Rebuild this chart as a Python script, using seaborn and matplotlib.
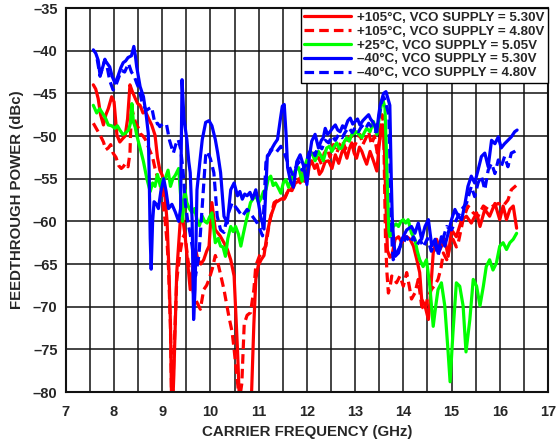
import matplotlib
matplotlib.use("Agg")
import matplotlib.pyplot as plt
import seaborn as sns
import pandas as pd

# (GHz, dBc) 곡선 데이터 - 그림에서 읽은 값
red_530 = [
    (7.57, -44.0), (7.62, -44.5), (7.67, -45.6), (7.72, -47.5), (7.78, -48.7), (7.83, -47.5), (7.88, -46.8),
    (7.95, -45.4), (8.0, -46.0), (8.06, -49.9), (8.12, -50.7), (8.18, -50.3), (8.23, -50.0), (8.28, -48.0),
    (8.33, -44.0), (8.38, -44.8), (8.44, -45.6), (8.49, -46.2), (8.54, -46.4), (8.6, -47.3), (8.65, -47.1),
    (8.72, -48.0), (8.78, -48.7), (8.85, -49.9), (8.9, -52.5), (8.95, -54.0), (9.0, -54.6), (9.04, -56.0),
    (9.1, -60.0), (9.14, -66.0), (9.17, -72.0), (9.2, -84.0), (9.24, -78.0), (9.3, -66.0), (9.37, -60.2),
    (9.42, -59.5), (9.47, -61.5), (9.52, -64.5), (9.58, -68.0), (9.63, -65.5), (9.69, -63.3), (9.74, -64.5),
    (9.8, -65.0), (9.86, -64.5), (9.92, -63.5), (9.97, -62.9), (10.03, -57.8), (10.1, -61.0), (10.2, -61.7),
    (10.28, -62.5), (10.35, -63.3), (10.42, -64.5), (10.49, -66.4), (10.56, -75.0), (10.6, -81.0),
    (10.7, -86.0), (10.8, -86.0), (10.85, -80.5), (10.9, -72.0), (10.94, -66.8), (10.99, -65.2),
    (11.05, -64.5), (11.11, -64.0), (11.18, -61.3), (11.25, -59.4), (11.35, -57.8), (11.46, -57.4),
    (11.55, -57.2), (11.62, -56.3), (11.69, -56.4), (11.76, -55.5), (11.83, -55.3), (11.9, -54.5),
    (11.95, -55.3), (12.0, -55.3), (12.05, -53.5), (12.1, -52.9), (12.16, -53.8), (12.21, -53.3),
    (12.26, -54.5), (12.31, -54.1), (12.38, -53.0), (12.45, -52.9), (12.52, -53.8), (12.59, -52.2),
    (12.66, -53.2), (12.72, -52.0), (12.76, -51.4), (12.83, -52.6), (12.88, -51.5), (12.93, -50.8),
    (12.98, -52.0), (13.03, -52.6), (13.09, -51.3), (13.14, -51.8), (13.19, -52.6), (13.24, -53.3),
    (13.31, -51.8), (13.38, -52.9), (13.45, -54.1), (13.5, -51.0), (13.55, -49.0), (13.58, -48.7),
    (13.61, -52.0), (13.64, -58.0), (13.67, -63.4), (13.72, -64.2), (13.76, -64.1), (13.83, -62.1),
    (13.9, -61.8), (13.97, -62.5), (14.03, -61.8), (14.07, -61.8), (14.14, -62.1), (14.21, -62.9),
    (14.28, -64.5), (14.34, -66.0), (14.38, -69.1), (14.45, -69.9), (14.52, -71.5), (14.55, -69.5),
    (14.62, -63.7), (14.69, -62.1), (14.76, -63.3), (14.86, -62.1), (14.93, -64.1), (15.0, -61.0),
    (15.1, -61.8), (15.21, -59.8), (15.31, -59.4), (15.41, -60.2), (15.52, -59.0), (15.59, -60.6),
    (15.69, -58.6), (15.79, -59.4), (15.9, -57.9), (16.0, -59.8), (16.07, -58.2), (16.14, -59.8),
    (16.21, -58.6), (16.28, -58.2), (16.35, -60.8),
]

red_480 = [
    (7.57, -48.5), (7.62, -49.0), (7.67, -49.5), (7.72, -50.0), (7.78, -50.7), (7.83, -51.6), (7.88, -51.4),
    (7.93, -51.0), (7.98, -52.0), (8.04, -52.5), (8.1, -53.5), (8.15, -53.8), (8.19, -53.6), (8.24, -53.2),
    (8.29, -53.6), (8.33, -52.0), (8.36, -46.6), (8.4, -47.5), (8.45, -48.5), (8.5, -49.0), (8.54, -49.7),
    (8.6, -50.0), (8.65, -50.4), (8.72, -51.4), (8.8, -52.5), (8.85, -53.8), (8.9, -54.8), (8.95, -55.5),
    (8.99, -56.5), (9.06, -60.0), (9.1, -62.5), (9.13, -65.5), (9.17, -72.5), (9.2, -83.0), (9.24, -76.0),
    (9.3, -66.9), (9.36, -64.0), (9.42, -62.0), (9.47, -61.4), (9.52, -64.0), (9.58, -66.4), (9.65, -68.5),
    (9.72, -69.5), (9.79, -70.3), (9.86, -68.0), (9.92, -67.5), (9.97, -66.8), (10.04, -65.5), (10.1, -64.0),
    (10.15, -64.8), (10.2, -66.0), (10.28, -68.0), (10.38, -71.1), (10.45, -73.0), (10.49, -75.0),
    (10.56, -78.9), (10.6, -81.0), (10.65, -79.0), (10.7, -72.0), (10.76, -71.0), (10.83, -70.7),
    (10.9, -68.0), (10.94, -65.2), (11.04, -63.7), (11.15, -62.9), (11.22, -60.2), (11.32, -57.8),
    (11.42, -57.4), (11.53, -57.4), (11.6, -56.5), (11.67, -56.3), (11.74, -55.5), (11.8, -54.8),
    (11.86, -55.5), (11.93, -54.0), (12.0, -54.5), (12.06, -52.5), (12.12, -52.0), (12.18, -53.0),
    (12.24, -52.5), (12.3, -53.3), (12.36, -52.0), (12.42, -51.5), (12.48, -52.5), (12.55, -51.0),
    (12.62, -52.0), (12.68, -51.0), (12.74, -50.5), (12.8, -51.5), (12.86, -50.2), (12.92, -50.0),
    (12.98, -51.3), (13.04, -50.5), (13.1, -49.8), (13.16, -51.0), (13.22, -50.3), (13.28, -49.5),
    (13.34, -51.0), (13.4, -50.0), (13.46, -52.0), (13.52, -50.0), (13.56, -47.5), (13.59, -48.5),
    (13.61, -55.0), (13.63, -62.0), (13.66, -66.0), (13.69, -68.4), (13.73, -67.5), (13.76, -66.4),
    (13.81, -66.8), (13.86, -67.2), (13.93, -66.4), (14.0, -67.6), (14.07, -66.0), (14.12, -67.5),
    (14.17, -69.1), (14.24, -68.4), (14.31, -66.8), (14.38, -69.9), (14.45, -70.5), (14.5, -69.0),
    (14.58, -68.0), (14.65, -67.5), (14.72, -66.8), (14.78, -65.5), (14.83, -63.7), (14.9, -64.5),
    (14.97, -62.9), (15.03, -62.1), (15.1, -63.0), (15.14, -62.5), (15.24, -59.8), (15.34, -58.2),
    (15.45, -59.0), (15.55, -59.4), (15.66, -58.2), (15.76, -58.6), (15.86, -58.2), (15.97, -57.9),
    (16.07, -58.2), (16.17, -57.5), (16.24, -56.3), (16.34, -55.8),
]

green_505 = [
    (7.57, -46.4), (7.64, -47.3), (7.7, -46.8), (7.78, -47.5), (7.83, -48.0), (7.88, -48.7), (7.95, -48.8),
    (8.02, -49.1), (8.07, -48.8), (8.12, -49.3), (8.18, -49.8), (8.23, -49.7), (8.3, -49.3), (8.34, -48.5),
    (8.37, -46.2), (8.4, -48.3), (8.44, -49.0), (8.47, -49.9), (8.54, -51.4), (8.61, -53.0), (8.68, -55.0),
    (8.75, -56.5), (8.8, -55.5), (8.85, -55.9), (8.9, -54.5), (8.96, -55.9), (9.01, -55.0), (9.06, -55.0),
    (9.12, -54.0), (9.17, -55.9), (9.22, -55.0), (9.27, -54.6), (9.34, -53.8), (9.38, -56.9), (9.42, -60.0),
    (9.47, -56.3), (9.51, -57.8), (9.56, -58.5), (9.62, -59.0), (9.67, -58.5), (9.72, -59.8), (9.77, -60.5),
    (9.83, -59.4), (9.88, -60.0), (9.93, -60.2), (9.98, -59.5), (10.03, -59.0), (10.07, -61.0),
    (10.1, -62.5), (10.16, -62.0), (10.21, -62.9), (10.26, -63.0), (10.31, -64.1), (10.36, -62.0),
    (10.42, -60.6), (10.47, -61.2), (10.52, -60.6), (10.58, -61.5), (10.63, -62.9), (10.68, -61.5),
    (10.73, -60.2), (10.78, -59.0), (10.83, -57.8), (10.89, -57.3), (10.94, -57.0), (11.0, -57.8),
    (11.04, -57.4), (11.1, -56.5), (11.15, -56.3), (11.2, -55.0), (11.25, -54.7), (11.3, -55.8),
    (11.35, -55.5), (11.4, -56.0), (11.46, -56.7), (11.51, -55.5), (11.56, -55.1), (11.62, -56.0),
    (11.69, -54.9), (11.76, -54.0), (11.83, -53.7), (11.9, -55.3), (11.97, -53.3), (12.02, -52.5),
    (12.07, -51.8), (12.12, -52.2), (12.17, -52.9), (12.24, -51.8), (12.29, -52.3), (12.34, -52.9),
    (12.41, -51.4), (12.47, -51.2), (12.52, -51.8), (12.57, -51.2), (12.62, -50.8), (12.67, -51.5),
    (12.72, -51.4), (12.78, -50.6), (12.83, -50.2), (12.88, -50.6), (12.93, -49.8), (12.98, -49.7),
    (13.03, -49.5), (13.08, -49.8), (13.14, -50.2), (13.19, -49.6), (13.24, -49.1), (13.31, -49.5),
    (13.38, -48.3), (13.45, -49.8), (13.52, -47.1), (13.57, -45.6), (13.62, -46.7), (13.66, -53.7),
    (13.7, -61.1), (13.72, -61.8), (13.79, -60.6), (13.85, -60.3), (13.9, -60.6), (13.95, -60.0),
    (14.0, -59.8), (14.05, -60.2), (14.1, -59.8), (14.17, -61.4), (14.24, -62.1), (14.29, -63.5),
    (14.34, -64.5), (14.41, -65.3), (14.48, -64.5), (14.55, -67.6), (14.62, -72.3), (14.67, -70.0),
    (14.72, -68.0), (14.79, -67.2), (14.86, -69.9), (14.9, -73.0), (14.93, -75.4), (14.97, -78.8),
    (15.0, -76.0), (15.03, -73.0), (15.1, -67.2), (15.17, -67.6), (15.24, -69.9), (15.3, -75.3),
    (15.38, -71.5), (15.45, -66.8), (15.52, -67.6), (15.59, -69.9), (15.66, -67.6), (15.72, -65.3),
    (15.79, -64.5), (15.86, -65.7), (15.93, -64.9), (16.0, -62.9), (16.07, -62.5), (16.14, -63.3),
    (16.21, -62.5), (16.28, -62.1), (16.35, -61.4),
]

blue_530 = [
    (7.57, -39.9), (7.62, -40.3), (7.67, -41.1), (7.71, -42.9), (7.76, -42.0), (7.81, -41.1), (7.86, -41.5),
    (7.91, -41.9), (7.96, -43.0), (8.02, -43.8), (8.08, -43.0), (8.14, -42.0), (8.19, -41.4), (8.24, -41.2),
    (8.29, -40.8), (8.36, -40.6), (8.41, -39.5), (8.44, -40.5), (8.47, -41.9), (8.54, -44.2), (8.61, -45.4),
    (8.67, -47.7), (8.71, -49.7), (8.73, -55.0), (8.75, -62.0), (8.77, -65.6), (8.8, -60.0), (8.83, -57.7),
    (8.88, -58.0), (8.92, -58.5), (8.97, -56.5), (9.03, -55.0), (9.08, -56.5), (9.13, -58.5), (9.2, -58.0),
    (9.27, -58.9), (9.34, -60.0), (9.38, -58.5), (9.41, -43.4), (9.45, -48.0), (9.51, -50.4), (9.55, -53.0),
    (9.58, -54.3), (9.62, -60.0), (9.65, -71.5), (9.68, -68.0), (9.72, -56.3), (9.78, -53.0), (9.83, -50.4),
    (9.9, -48.4), (9.97, -48.2), (10.03, -48.8), (10.1, -50.4), (10.15, -52.0), (10.21, -54.3),
    (10.28, -59.4), (10.35, -60.2), (10.42, -56.3), (10.49, -55.5), (10.56, -57.0), (10.61, -56.5),
    (10.66, -57.4), (10.71, -56.8), (10.76, -57.0), (10.82, -56.6), (10.87, -57.4), (10.94, -56.3),
    (11.0, -58.0), (11.04, -59.4), (11.11, -60.9), (11.18, -52.3), (11.23, -52.0), (11.28, -51.4),
    (11.33, -50.9), (11.39, -50.4), (11.45, -48.0), (11.49, -46.5), (11.53, -46.3), (11.57, -50.0),
    (11.6, -53.7), (11.66, -55.3), (11.72, -56.0), (11.79, -53.0), (11.86, -52.2), (11.93, -53.5),
    (12.0, -55.7), (12.05, -52.5), (12.1, -50.6), (12.17, -49.8), (12.24, -51.4), (12.3, -50.5),
    (12.34, -50.2), (12.38, -49.1), (12.43, -49.8), (12.48, -49.5), (12.54, -49.0), (12.59, -48.7),
    (12.64, -49.3), (12.69, -49.5), (12.74, -48.8), (12.79, -49.1), (12.85, -48.2), (12.9, -47.9),
    (12.95, -48.6), (13.0, -48.3), (13.05, -48.0), (13.1, -48.7), (13.16, -48.2), (13.21, -47.9),
    (13.28, -47.5), (13.32, -48.0), (13.36, -48.3), (13.41, -48.8), (13.45, -49.5), (13.49, -47.5),
    (13.52, -46.4), (13.59, -45.0), (13.64, -44.8), (13.68, -45.6), (13.72, -46.4), (13.75, -55.0),
    (13.77, -59.5), (13.79, -61.4), (13.83, -64.1), (13.9, -63.7), (13.97, -62.1), (14.07, -61.0),
    (14.17, -60.6), (14.24, -61.4), (14.31, -60.2), (14.38, -62.1), (14.45, -60.6), (14.52, -59.8),
    (14.59, -62.9), (14.66, -62.1), (14.72, -63.7), (14.79, -61.8), (14.86, -62.9), (14.93, -61.4),
    (15.0, -59.8), (15.07, -58.6), (15.14, -59.4), (15.21, -59.8), (15.28, -57.9), (15.34, -55.9),
    (15.41, -54.7), (15.48, -55.5), (15.55, -54.0), (15.62, -52.4), (15.69, -52.0), (15.76, -53.6),
    (15.83, -50.5), (15.9, -50.9), (15.97, -50.1), (16.03, -51.4), (16.1, -50.9), (16.17, -50.5),
    (16.24, -50.1), (16.31, -49.5), (16.36, -49.3),
]

blue_480 = [
    (7.65, -41.0), (7.71, -43.0), (7.76, -42.0), (7.81, -41.0), (7.86, -42.0), (7.91, -43.5), (7.98, -44.6),
    (8.04, -44.0), (8.08, -43.4), (8.15, -42.3), (8.22, -42.5), (8.3, -41.5), (8.36, -42.5), (8.42, -43.0),
    (8.47, -43.8), (8.52, -44.5), (8.57, -45.8), (8.62, -46.5), (8.67, -47.0), (8.72, -46.8), (8.78, -46.6),
    (8.85, -48.6), (8.9, -48.5), (8.95, -48.9), (9.02, -48.5), (9.09, -48.7), (9.15, -50.5), (9.23, -52.0),
    (9.28, -51.0), (9.33, -50.4), (9.38, -51.5), (9.43, -54.0), (9.48, -58.0), (9.53, -60.0), (9.58, -61.5),
    (9.62, -62.9), (9.69, -66.4), (9.76, -64.0), (9.83, -58.2), (9.9, -52.3), (9.94, -51.8), (10.0, -52.7),
    (10.07, -54.3), (10.14, -59.4), (10.21, -61.0), (10.28, -61.3), (10.35, -59.4), (10.45, -57.8),
    (10.56, -58.6), (10.66, -59.4), (10.76, -58.6), (10.87, -59.4), (10.97, -60.2), (11.03, -61.0),
    (11.08, -61.7), (11.15, -53.1), (11.25, -51.6), (11.35, -52.0), (11.46, -51.2), (11.53, -52.0),
    (11.63, -53.5), (11.7, -54.5), (11.76, -53.8), (11.83, -53.0), (11.9, -54.0), (11.97, -53.5),
    (12.04, -52.0), (12.1, -51.5), (12.17, -52.3), (12.24, -51.0), (12.31, -51.5), (12.38, -50.5),
    (12.45, -50.8), (12.52, -50.0), (12.59, -50.5), (12.66, -49.8), (12.73, -50.2), (12.8, -49.5),
    (12.87, -49.0), (12.94, -49.6), (13.0, -49.0), (13.07, -49.5), (13.14, -48.8), (13.21, -49.2),
    (13.28, -48.5), (13.35, -49.0), (13.42, -49.5), (13.49, -48.0), (13.55, -46.0), (13.6, -45.5),
    (13.65, -46.5), (13.7, -47.5), (13.74, -57.0), (13.77, -63.0), (13.79, -64.5), (13.86, -63.7),
    (13.93, -63.0), (14.0, -62.5), (14.07, -61.8), (14.14, -62.5), (14.21, -61.8), (14.28, -62.8),
    (14.35, -62.2), (14.42, -63.0), (14.5, -62.0), (14.58, -63.5), (14.65, -62.5), (14.72, -64.0),
    (14.8, -62.5), (14.9, -60.6), (15.0, -61.0), (15.1, -59.8), (15.21, -58.6), (15.31, -57.9),
    (15.41, -55.9), (15.48, -57.1), (15.55, -55.5), (15.62, -54.7), (15.69, -56.3), (15.76, -54.0),
    (15.83, -53.2), (15.9, -54.4), (15.97, -52.8), (16.03, -53.6), (16.1, -52.4), (16.17, -53.6),
    (16.24, -52.0), (16.31, -51.8), (16.36, -51.6),
]

labels = [
    "+105°C, VCO SUPPLY = 5.30V",
    "+105°C, VCO SUPPLY = 4.80V",
    "+25°C, VCO SUPPLY = 5.05V",
    "–40°C, VCO SUPPLY = 5.30V",
    "–40°C, VCO SUPPLY = 4.80V",
]
series = [red_530, red_480, green_505, blue_530, blue_480]
colors = ["#ff0000", "#ff0000", "#00ff00", "#0000ff", "#0000ff"]
dashed = [False, True, False, False, True]

xticks = list(range(7, 18))
yticks = [-35, -40, -45, -50, -55, -60, -65, -70, -75, -80]
ytick_labels = ["–35", "–40", "–45", "–50", "–55", "–60", "–65", "–70", "–75", "–80"]

# long-form 데이터프레임
frames = []
for lab, pts in zip(labels, series):
    d = pd.DataFrame(pts, columns=["freq", "power"])
    d["label"] = lab
    frames.append(d)
df = pd.concat(frames, ignore_index=True)

sns.set_style("white")
plt.rcParams["font.family"] = ["Liberation Sans", "DejaVu Sans"]
plt.rcParams["font.weight"] = "bold"

fig = plt.figure(figsize=(5.58, 4.46), dpi=100)
ax = fig.add_axes([0.118, 0.121, 0.864, 0.861])

palette = dict(zip(labels, colors))
dash_map = {lab: ((3, 1.6) if d else "") for lab, d in zip(labels, dashed)}

sns.lineplot(data=df, x="freq", y="power", hue="label", style="label",
             hue_order=labels, style_order=labels, palette=palette, dashes=dash_map,
             estimator=None, sort=False, linewidth=2.3, ax=ax)

ax.set_xlim(7, 17)
ax.set_ylim(-80, -35)
ax.set_xticks(xticks)
ax.set_xticklabels([str(t) for t in xticks], fontsize=10.5, fontweight="bold")
ax.set_xticks([t + 0.5 for t in xticks[:-1]], minor=True)
ax.set_yticks(yticks)
ax.set_yticklabels(ytick_labels, fontsize=10.5, fontweight="bold")
ax.tick_params(which="both", length=0)
ax.tick_params(axis="x", pad=9)
ax.tick_params(axis="y", pad=6)

ax.grid(True, which="major", color="#111111", linewidth=1.1)
ax.grid(True, which="minor", axis="x", color="#111111", linewidth=1.1)
ax.set_axisbelow(True)
for sp in ax.spines.values():
    sp.set_color("#111111")
    sp.set_linewidth(1.5)

ax.set_xlabel("CARRIER FREQUENCY (GHz)", fontsize=10.8, fontweight="bold", labelpad=5)
ax.set_ylabel("FEEDTHROUGH POWER (dBc)", fontsize=10.8, fontweight="bold", labelpad=6)

handles, labs = ax.get_legend_handles_labels()
leg = ax.legend(handles, labs, loc="upper right", borderaxespad=0, frameon=True,
                fancybox=False, edgecolor="black", framealpha=1, borderpad=0.25,
                handlelength=3.5, handletextpad=0.5, labelspacing=0.12,
                prop={"size": 9.6, "weight": "bold"})
leg.get_frame().set_linewidth(1.0)
for h in leg.get_lines():
    h.set_linewidth(2.3)

fig.savefig("out.png", dpi=100)
